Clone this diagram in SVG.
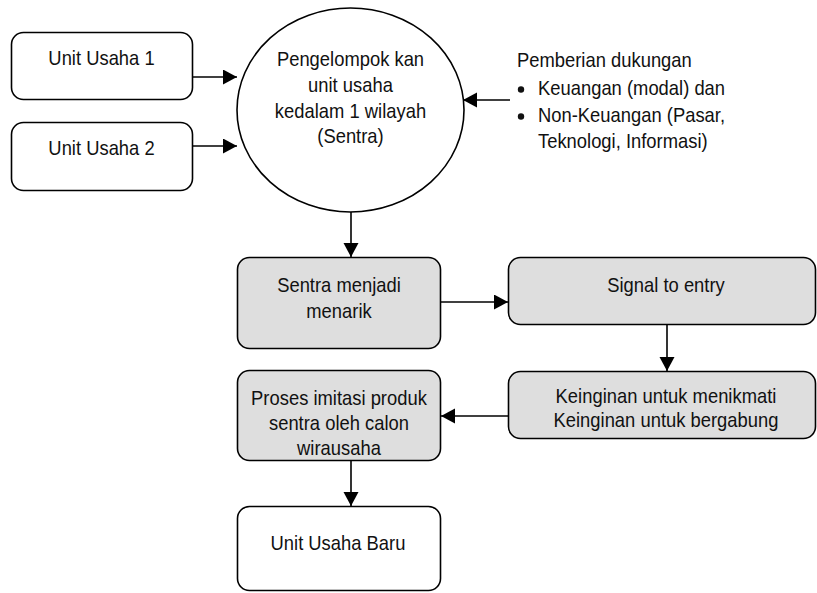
<svg xmlns="http://www.w3.org/2000/svg" width="817" height="593" viewBox="0 0 817 593">
<style>
.box{stroke:#000;stroke-width:1.6;fill:#fff}
.g{fill:#dedede}
text{font-family:"Liberation Sans",Arial,sans-serif;font-size:20px;fill:#111}
.c{text-anchor:middle}
.ln{stroke:#000;stroke-width:1.6;fill:none;marker-end:url(#ah)}
</style>
<defs>
<marker id="ah" markerUnits="userSpaceOnUse" markerWidth="15" markerHeight="16" refX="14" refY="7.5" orient="auto">
<path d="M0,0 L14,7.5 L0,15 z" fill="#000"/>
</marker>
</defs>
<rect width="817" height="593" fill="#fff"/>
<g id="unit1">
<rect class="box" x="11.5" y="32.5" width="181" height="67" rx="12"/>
<text class="c" transform="scale(0.92,1)" x="110.33" y="65">Unit Usaha 1</text>
</g>
<g id="unit2">
<rect class="box" x="11.5" y="122.5" width="181" height="68" rx="12"/>
<text class="c" transform="scale(0.92,1)" x="110.33" y="155">Unit Usaha 2</text>
</g>
<g id="sentra-circle">
<ellipse class="box" cx="350.5" cy="110" rx="113.5" ry="102"/>
<text class="c" transform="scale(0.92,1)" x="380.98" y="66">Pengelompok kan</text>
<text class="c" transform="scale(0.92,1)" x="380.98" y="92">unit usaha</text>
<text class="c" transform="scale(0.92,1)" x="380.98" y="118">kedalam 1 wilayah</text>
<text class="c" transform="scale(0.92,1)" x="380.98" y="143">(Sentra)</text>
</g>
<g id="dukungan">
<text transform="scale(0.92,1)" x="561.96" y="67">Pemberian dukungan</text>
<circle cx="521" cy="89.5" r="3.2" fill="#111"/>
<text transform="scale(0.92,1)" x="584.78" y="95">Keuangan (modal) dan</text>
<circle cx="521" cy="116.5" r="3.2" fill="#111"/>
<text transform="scale(0.92,1)" x="584.78" y="122">Non-Keuangan (Pasar,</text>
<text transform="scale(0.92,1)" x="584.78" y="148">Teknologi, Informasi)</text>
</g>
<g id="menarik">
<rect class="box g" x="237.5" y="257.5" width="203" height="91" rx="12"/>
<text class="c" transform="scale(0.92,1)" x="368.48" y="292">Sentra menjadi</text>
<text class="c" transform="scale(0.92,1)" x="368.48" y="318">menarik</text>
</g>
<g id="signal">
<rect class="box g" x="508.5" y="257.5" width="307" height="67" rx="12"/>
<text class="c" transform="scale(0.92,1)" x="723.91" y="292">Signal to entry</text>
</g>
<g id="keinginan">
<rect class="box g" x="508.5" y="371.5" width="307" height="67" rx="12"/>
<text class="c" transform="scale(0.92,1)" x="723.91" y="403">Keinginan untuk menikmati</text>
<text class="c" transform="scale(0.92,1)" x="723.91" y="427">Keinginan untuk bergabung</text>
</g>
<g id="proses">
<rect class="box g" x="237.5" y="370.5" width="203" height="90" rx="12"/>
<text class="c" transform="scale(0.92,1)" x="368.48" y="405">Proses imitasi produk</text>
<text class="c" transform="scale(0.92,1)" x="368.48" y="430">sentra oleh calon</text>
<text class="c" transform="scale(0.92,1)" x="368.48" y="455">wirausaha</text>
</g>
<g id="baru">
<rect class="box" x="237.5" y="506.5" width="203" height="84" rx="12"/>
<text class="c" transform="scale(0.92,1)" x="367.39" y="550">Unit Usaha Baru</text>
</g>
<g id="connectors">
<line class="ln" x1="192" y1="77" x2="237" y2="77"/>
<line class="ln" x1="192" y1="146" x2="237" y2="146"/>
<line class="ln" x1="510" y1="100" x2="463" y2="100"/>
<line class="ln" x1="351" y1="212" x2="351" y2="257"/>
<line class="ln" x1="441" y1="302" x2="508" y2="302"/>
<line class="ln" x1="667" y1="325" x2="667" y2="371"/>
<line class="ln" x1="508" y1="416" x2="441" y2="416"/>
<line class="ln" x1="351" y1="461" x2="351" y2="506"/>
</g>
</svg>
